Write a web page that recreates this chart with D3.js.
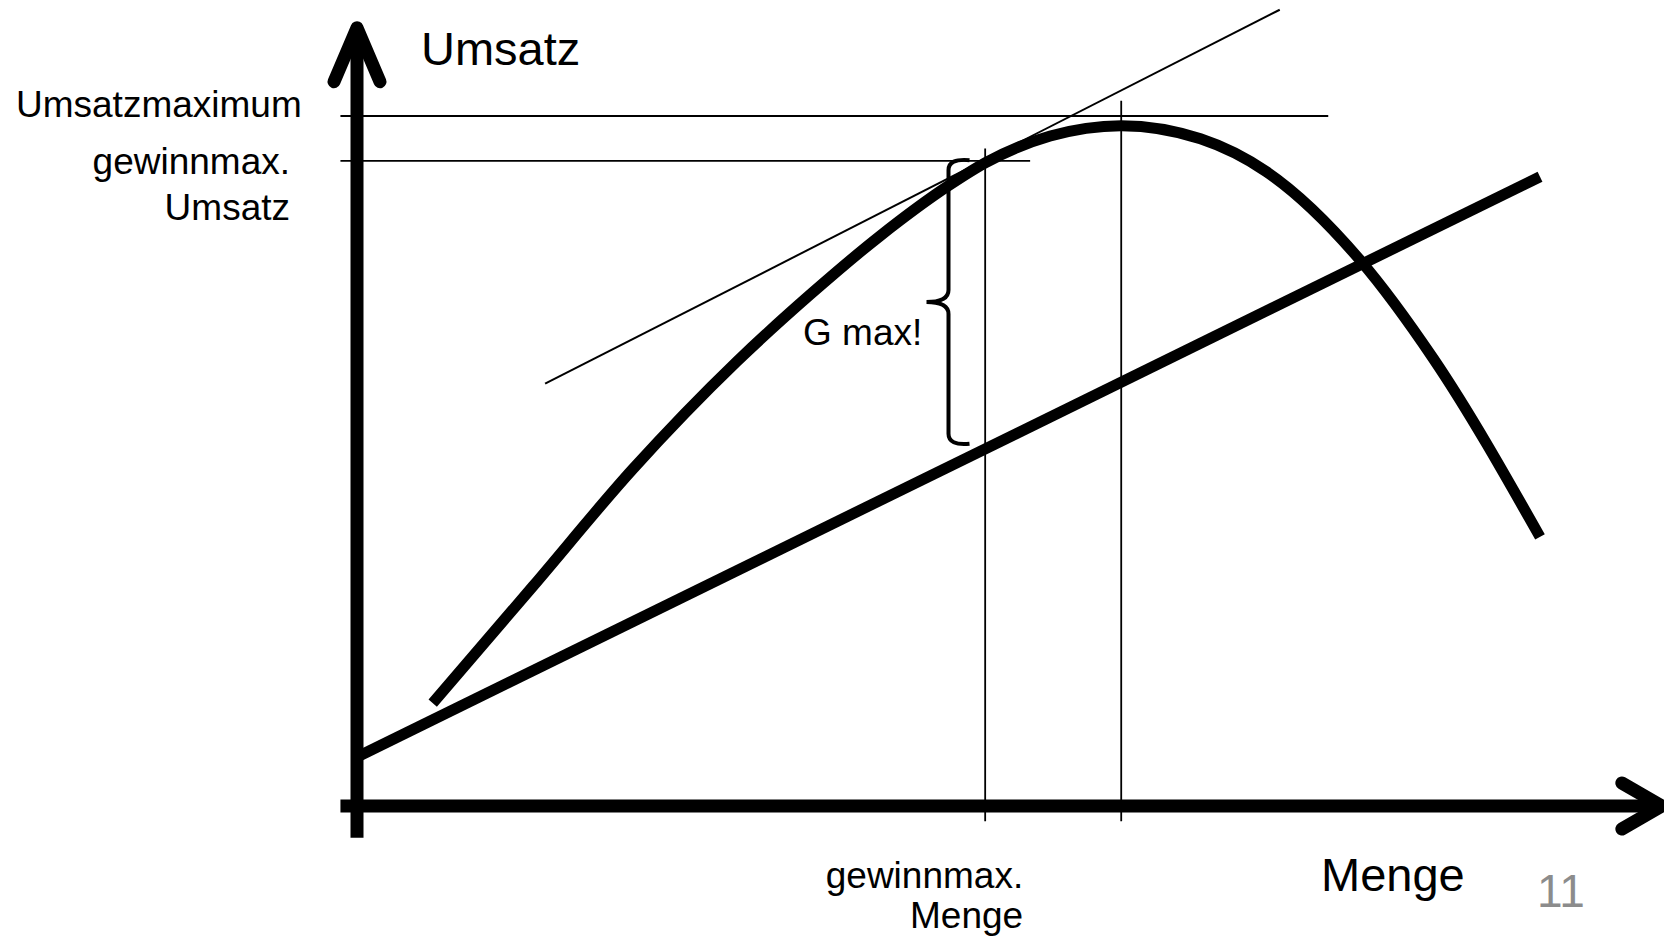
<!DOCTYPE html>
<html>
<head>
<meta charset="utf-8">
<title>Umsatz und Menge</title>
<script src="https://cdn.jsdelivr.net/npm/d3@7"></script>
<style>
    body { margin: 0; background: #fff; }
    svg { display: block; }
    text { font-family: "Liberation Sans", Arial, sans-serif; fill: #000; }
</style>
</head>
<body>
<script>
"use strict";

// Umsatzkurve (Menge, Umsatz)
var umsatzMenge = [6.4, 14.9, 23.3, 32.1, 38.3, 44.2, 50.0, 53.1, 58.6, 64.6, 71.3, 76.9, 84.8, 91.0, 100];
var umsatzWerte = [14.9, 31.9, 48.8, 64.4, 74.1, 82.6, 89.9, 93.2, 97.1, 98.6, 96.7, 91.9, 79.1, 64.8, 39.0];

// Kostengerade
var kostenMenge = [0, 100];
var kostenWerte = [7.1, 91.2];

// Tangente im Gewinnmaximum
var tangenteMenge = [15.9, 78.0];
var tangenteWerte = [61.2, 115.4];

// Markierungen
var umsatzMax = 100;
var gewinnUmsatz = 93.5;
var gewinnMenge = 53.1;
var umsatzMaxMenge = 64.6;
var gMaxMenge = 50.0;
var gMaxBereich = [52.5, 93.6];

function init() {
    var w = 1664;
    var h = 938;

    var xScale = d3.scaleLinear()
        .domain([0, 100])
        .range([357, 1540]);

    var yScale = d3.scaleLinear()
        .domain([0, 100])
        .range([806, 116]);

    var svg = d3.select("body")
        .append("svg")
        .attr("width", w)
        .attr("height", h);

    var line = d3.line()
        .x(function (d) { return xScale(d[0]); })
        .y(function (d) { return yScale(d[1]); });

    //thin helper lines
    var hilfslinien = [
        [[-1.4, umsatzMax], [82.1, umsatzMax]],
        [[-1.4, gewinnUmsatz], [56.9, gewinnUmsatz]],
        [[gewinnMenge, -2.2], [gewinnMenge, 95.3]],
        [[umsatzMaxMenge, -2.2], [umsatzMaxMenge, 102.2]]
    ];
    svg.selectAll("path.hilfe")
        .data(hilfslinien)
        .enter()
        .append("path")
        .attr("class", "hilfe")
        .attr("d", line)
        .attr("fill", "none")
        .attr("stroke", "#000")
        .attr("stroke-width", 1.8);

    //tangent
    svg.append("path")
        .datum(d3.zip(tangenteMenge, tangenteWerte))
        .attr("d", line)
        .attr("fill", "none")
        .attr("stroke", "#000")
        .attr("stroke-width", 2);

    //cost line
    svg.append("path")
        .datum(d3.zip(kostenMenge, kostenWerte))
        .attr("d", line)
        .attr("fill", "none")
        .attr("stroke", "#000")
        .attr("stroke-width", 11);

    //revenue curve
    var kurve = d3.line()
        .x(function (d) { return xScale(d[0]); })
        .y(function (d) { return yScale(d[1]); })
        .curve(d3.curveMonotoneX);
    svg.append("path")
        .datum(d3.zip(umsatzMenge, umsatzWerte))
        .attr("d", kurve)
        .attr("fill", "none")
        .attr("stroke", "#000")
        .attr("stroke-width", 11);

    //axes
    var x0 = xScale(0), y0 = yScale(0);
    var yTop = yScale(112.8), xEnd = xScale(110.3);
    svg.append("line")
        .attr("x1", x0).attr("y1", yScale(-4.6))
        .attr("x2", x0).attr("y2", yTop + 4)
        .attr("stroke", "#000")
        .attr("stroke-width", 13);
    svg.append("line")
        .attr("x1", xScale(-1.4)).attr("y1", y0)
        .attr("x2", xEnd - 4).attr("y2", y0)
        .attr("stroke", "#000")
        .attr("stroke-width", 13);

    //arrow heads
    svg.append("path")
        .attr("d", "M" + (x0 - 23) + "," + (yTop + 54) + "L" + x0 + "," + yTop + "L" + (x0 + 23) + "," + (yTop + 54))
        .attr("fill", "none")
        .attr("stroke", "#000")
        .attr("stroke-width", 13)
        .attr("stroke-linecap", "round")
        .attr("stroke-linejoin", "round");
    svg.append("path")
        .attr("d", "M" + (xEnd - 40) + "," + (y0 - 23) + "L" + xEnd + "," + y0 + "L" + (xEnd - 40) + "," + (y0 + 23))
        .attr("fill", "none")
        .attr("stroke", "#000")
        .attr("stroke-width", 13)
        .attr("stroke-linecap", "round")
        .attr("stroke-linejoin", "round");

    //brace for G max
    var bx = xScale(gMaxMenge);
    var bTop = yScale(gMaxBereich[1]);
    var bBot = yScale(gMaxBereich[0]);
    var bMid = (bTop + bBot) / 2;
    var brace = d3.path();
    brace.moveTo(bx + 21, bTop);
    brace.quadraticCurveTo(bx, bTop - 2, bx, bTop + 10);
    brace.lineTo(bx, bMid - 12);
    brace.quadraticCurveTo(bx, bMid, bx - 22, bMid);
    brace.quadraticCurveTo(bx, bMid, bx, bMid + 12);
    brace.lineTo(bx, bBot - 10);
    brace.quadraticCurveTo(bx, bBot + 2, bx + 21, bBot);
    svg.append("path")
        .attr("d", brace.toString())
        .attr("fill", "none")
        .attr("stroke", "#000")
        .attr("stroke-width", 4);

    //labels
    svg.append("text")
        .attr("x", x0 + 64).attr("y", yTop + 37)
        .attr("font-size", 47)
        .text("Umsatz");

    svg.append("text")
        .attr("x", 16).attr("y", yScale(umsatzMax) + 1)
        .attr("font-size", 37)
        .text("Umsatzmaximum");

    var gu = svg.append("text")
        .attr("text-anchor", "end")
        .attr("font-size", 37);
    gu.append("tspan").attr("x", 290).attr("y", yScale(gewinnUmsatz) + 13).text("gewinnmax.");
    gu.append("tspan").attr("x", 290).attr("y", yScale(gewinnUmsatz) + 59).text("Umsatz");

    var gm = svg.append("text")
        .attr("text-anchor", "end")
        .attr("font-size", 37);
    gm.append("tspan").attr("x", xScale(gewinnMenge) + 38).attr("y", 888).text("gewinnmax.");
    gm.append("tspan").attr("x", xScale(gewinnMenge) + 38).attr("y", 928).text("Menge");

    svg.append("text")
        .attr("x", 803).attr("y", 345)
        .attr("font-size", 37)
        .text("G max!");

    svg.append("text")
        .attr("x", 1321).attr("y", 891)
        .attr("font-size", 47)
        .text("Menge");

    svg.append("text")
        .attr("x", 1537).attr("y", 907)
        .attr("font-size", 46)
        .style("fill", "#8c8c8c")
        .text("11");
}

window.onload = init;
</script>
</body>
</html>
